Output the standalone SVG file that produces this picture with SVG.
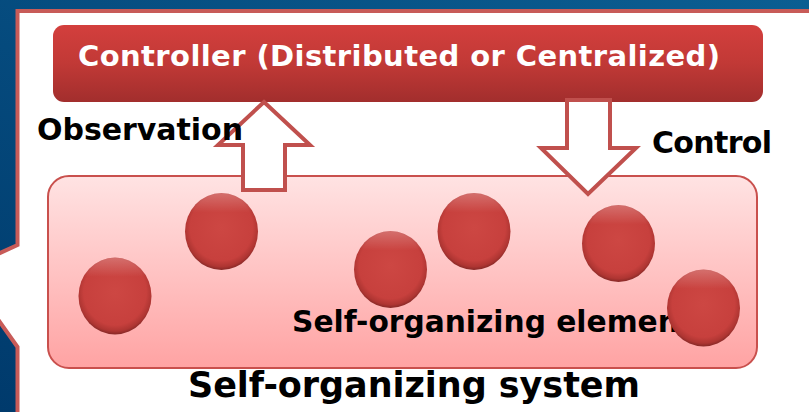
<svg xmlns="http://www.w3.org/2000/svg" width="809" height="412" viewBox="0 0 809 412">
<defs>
<linearGradient id="bg" x1="1" y1="0" x2="0" y2="1">
<stop offset="0" stop-color="#0b5e92"/>
<stop offset="1" stop-color="#003a6c"/>
</linearGradient>
<linearGradient id="ctl" x1="0" y1="0" x2="0" y2="1">
<stop offset="0" stop-color="#d33f3d"/>
<stop offset="0.5" stop-color="#c13936"/>
<stop offset="1" stop-color="#a22e2d"/>
</linearGradient>
<linearGradient id="sys" x1="0" y1="0" x2="0" y2="1">
<stop offset="0" stop-color="#ffe3e3"/>
<stop offset="1" stop-color="#ffa3a3"/>
</linearGradient>
<radialGradient id="ball" cx="0.5" cy="0.45" r="0.55">
<stop offset="0" stop-color="#cd4743"/>
<stop offset="0.78" stop-color="#c7403d"/>
<stop offset="0.92" stop-color="#ae3532"/>
<stop offset="1" stop-color="#862826"/>
</radialGradient>
<linearGradient id="shine" x1="0" y1="0" x2="0" y2="1">
<stop offset="0" stop-color="#ffffff" stop-opacity="0.25"/>
<stop offset="0.25" stop-color="#ffffff" stop-opacity="0"/>
<stop offset="1" stop-color="#ffffff" stop-opacity="0"/>
</linearGradient>
<style>
.lbl{font-family:"DejaVu Sans","Verdana",sans-serif;font-weight:bold;fill:#000}
.arrow{fill:#ffffff;stroke:#c0504d;stroke-width:4;stroke-linejoin:miter}
.el{fill:url(#ball)}
.sh{fill:url(#shine)}
</style>
</defs>
<rect x="0" y="0" width="809" height="412" fill="url(#bg)"/>
<path d="M17.5 11 H815 V420 H17.5 V347 L-37 270 L17.5 245 Z" fill="#ffffff" stroke="#c85b58" stroke-width="4"/>
<g id="controller">
<rect x="53" y="25" width="710" height="77" rx="11" ry="11" fill="url(#ctl)"/>
<text x="78" y="66" font-family="DejaVu Sans, Verdana, sans-serif" font-weight="bold" font-size="29" fill="#ffffff" textLength="642" lengthAdjust="spacing">Controller (Distributed or Centralized)</text>
</g>
<g id="system">
<rect x="48" y="176" width="709" height="192" rx="21" ry="21" fill="url(#sys)" stroke="#c9504d" stroke-width="2"/>
<text class="lbl" x="188" y="397" font-size="35" textLength="452" lengthAdjust="spacing">Self-organizing system</text>
</g>
<g id="connectors">
<polygon id="observation-arrow" class="arrow" points="264,102 310,145 285,145 285,190 243,190 243,145 218,145"/>
<polygon id="control-arrow" class="arrow" points="567,100 610,100 610,148 636,148 588,194 541,148 567,148"/>
</g>
<g id="observation-label"><text class="lbl" x="37" y="140" font-size="30" textLength="206" lengthAdjust="spacing">Observation</text></g>
<g id="control-label"><text class="lbl" x="652" y="153" font-size="30" textLength="120" lengthAdjust="spacing">Control</text></g>
<g id="element-label"><text class="lbl" x="292" y="332" font-size="29.7">Self-organizing element</text></g>
<g id="elements">
<g id="e1"><ellipse class="el" cx="115" cy="296" rx="36.5" ry="38.5"/><ellipse class="sh" cx="115" cy="296" rx="36.5" ry="38.5"/></g>
<g id="e2"><ellipse class="el" cx="221.5" cy="231.5" rx="36.5" ry="38.5"/><ellipse class="sh" cx="221.5" cy="231.5" rx="36.5" ry="38.5"/></g>
<g id="e3"><ellipse class="el" cx="390.5" cy="269.5" rx="36.5" ry="38.5"/><ellipse class="sh" cx="390.5" cy="269.5" rx="36.5" ry="38.5"/></g>
<g id="e4"><ellipse class="el" cx="474" cy="231.5" rx="36.5" ry="38.5"/><ellipse class="sh" cx="474" cy="231.5" rx="36.5" ry="38.5"/></g>
<g id="e5"><ellipse class="el" cx="618.5" cy="243.5" rx="36.5" ry="38.5"/><ellipse class="sh" cx="618.5" cy="243.5" rx="36.5" ry="38.5"/></g>
<g id="e6"><ellipse class="el" cx="703.5" cy="308" rx="36.5" ry="38.5"/><ellipse class="sh" cx="703.5" cy="308" rx="36.5" ry="38.5"/></g>
</g>
</svg>
